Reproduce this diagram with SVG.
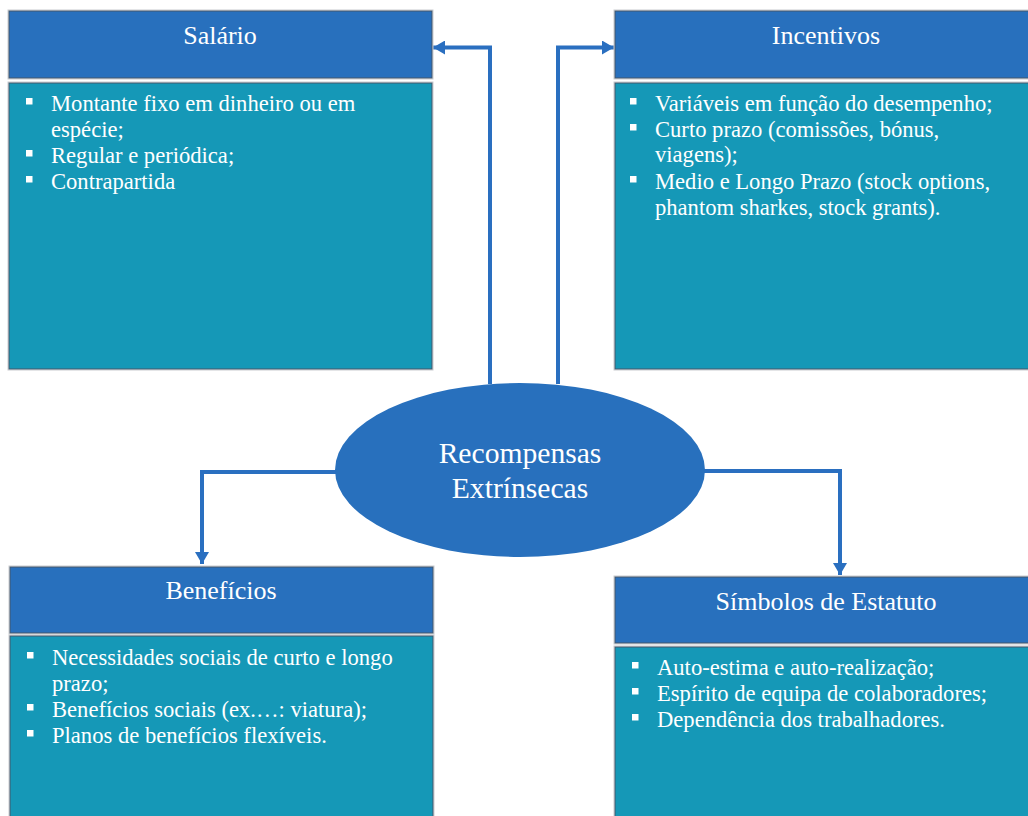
<svg xmlns="http://www.w3.org/2000/svg" width="1028" height="816" viewBox="0 0 1028 816">
  <style>
    .hdr { fill: #2870bd; stroke: #44576a; stroke-width: 1; }
    .body { fill: #1598b7; stroke: #44576a; stroke-width: 1; }
    .halo { fill: none; stroke: #c9ccd0; stroke-width: 1; }
    .title { font-family: "Liberation Serif", "Times New Roman", serif; font-size: 26px; fill: #ffffff; text-anchor: middle; }
    .item { font-family: "Liberation Serif", "Times New Roman", serif; font-size: 22.6px; fill: #ffffff; }
    .bullet { fill: #ffffff; }
    .center-label { font-family: "Liberation Serif", "Times New Roman", serif; font-size: 29.6px; fill: #ffffff; text-anchor: middle; }
    .conn { fill: none; stroke: #2a6fc0; stroke-width: 4; stroke-linejoin: miter; }
  </style>
  <defs>
    <marker id="arrow" viewBox="0 0 12 14" refX="12" refY="7" markerWidth="12" markerHeight="14" markerUnits="userSpaceOnUse" orient="auto">
      <path d="M0,0 L12,7 L0,14 Z" fill="#2a6fc0"/>
    </marker>
  </defs>

  <rect x="0" y="0" width="1028" height="816" fill="#ffffff"/>

  <!-- Connectors from the central ellipse to each category -->
  <g id="connectors">
    <path class="conn" d="M490,384 L490,47.5 L433,47.5" marker-end="url(#arrow)"/>
    <path class="conn" d="M558,384 L558,47.5 L614,47.5" marker-end="url(#arrow)"/>
    <path class="conn" d="M336,472 L202,472 L202,564" marker-end="url(#arrow)"/>
    <path class="conn" d="M704,471 L840,471 L840,575" marker-end="url(#arrow)"/>
  </g>

  <!-- Salário -->
  <g id="salario">
    <rect class="halo" x="8" y="10" width="425" height="69"/>
    <rect class="hdr" x="9" y="11" width="423" height="67"/>
    <text class="title" x="220" y="44">Salário</text>
    <rect class="halo" x="8" y="82" width="425" height="288"/>
    <rect class="body" x="9" y="83" width="423" height="286"/>
    <rect class="bullet" x="26" y="98" width="6.5" height="6.5"/>
    <text class="item" x="51" y="111">Montante fixo em dinheiro ou em</text>
    <text class="item" x="51" y="137">espécie;</text>
    <rect class="bullet" x="26" y="150" width="6.5" height="6.5"/>
    <text class="item" x="51" y="163">Regular e periódica;</text>
    <rect class="bullet" x="26" y="176" width="6.5" height="6.5"/>
    <text class="item" x="51" y="189">Contrapartida</text>
  </g>

  <!-- Incentivos -->
  <g id="incentivos">
    <rect class="halo" x="614" y="10" width="425" height="69"/>
    <rect class="hdr" x="615" y="11" width="423" height="67"/>
    <text class="title" x="826" y="44">Incentivos</text>
    <rect class="halo" x="614" y="82" width="425" height="288"/>
    <rect class="body" x="615" y="83" width="423" height="286"/>
    <rect class="bullet" x="630" y="98" width="6.5" height="6.5"/>
    <text class="item" x="655" y="111">Variáveis em função do desempenho;</text>
    <rect class="bullet" x="630" y="124" width="6.5" height="6.5"/>
    <text class="item" x="655" y="137">Curto prazo (comissões, bónus,</text>
    <text class="item" x="655" y="162">viagens);</text>
    <rect class="bullet" x="630" y="176" width="6.5" height="6.5"/>
    <text class="item" x="655" y="189">Medio e Longo Prazo (stock options,</text>
    <text class="item" x="655" y="215">phantom sharkes, stock grants).</text>
  </g>

  <!-- Benefícios -->
  <g id="beneficios">
    <rect class="halo" x="9" y="566" width="425" height="68"/>
    <rect class="hdr" x="10" y="567" width="423" height="66"/>
    <text class="title" x="221" y="599">Benefícios</text>
    <rect class="halo" x="9" y="635" width="425" height="190"/>
    <rect class="body" x="10" y="636" width="423" height="190"/>
    <rect class="bullet" x="27" y="652" width="6.5" height="6.5"/>
    <text class="item" x="52" y="665">Necessidades sociais de curto e longo</text>
    <text class="item" x="52" y="691">prazo;</text>
    <rect class="bullet" x="27" y="704" width="6.5" height="6.5"/>
    <text class="item" x="52" y="717">Benefícios sociais (ex.…: viatura);</text>
    <rect class="bullet" x="27" y="730" width="6.5" height="6.5"/>
    <text class="item" x="52" y="743">Planos de benefícios flexíveis.</text>
  </g>

  <!-- Símbolos de Estatuto -->
  <g id="simbolos">
    <rect class="halo" x="614" y="576" width="425" height="68"/>
    <rect class="hdr" x="615" y="577" width="423" height="66"/>
    <text class="title" x="826" y="610">Símbolos de Estatuto</text>
    <rect class="halo" x="614" y="646" width="425" height="180"/>
    <rect class="body" x="615" y="647" width="423" height="180"/>
    <rect class="bullet" x="632" y="662" width="6.5" height="6.5"/>
    <text class="item" x="657" y="675">Auto-estima e auto-realização;</text>
    <rect class="bullet" x="632" y="688" width="6.5" height="6.5"/>
    <text class="item" x="657" y="701">Espírito de equipa de colaboradores;</text>
    <rect class="bullet" x="632" y="714" width="6.5" height="6.5"/>
    <text class="item" x="657" y="727">Dependência dos trabalhadores.</text>
  </g>

  <!-- Central node -->
  <g id="recompensas">
    <ellipse cx="520" cy="470" rx="185" ry="87" fill="#2870bd"/>
    <text class="center-label" x="520" y="463">Recompensas</text>
    <text class="center-label" x="520" y="498">Extrínsecas</text>
  </g>
</svg>
